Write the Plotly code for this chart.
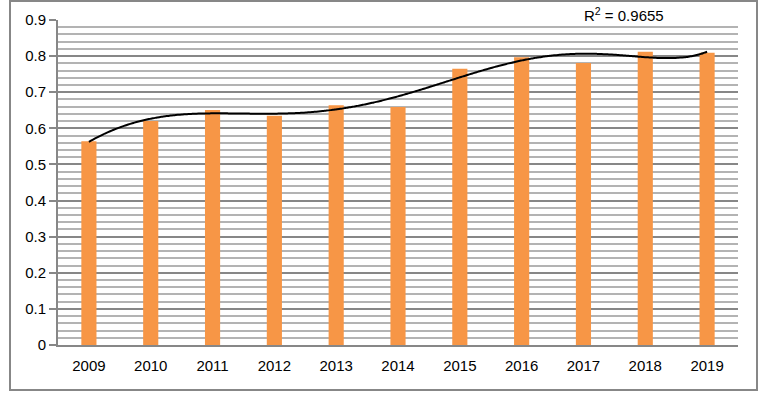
import numpy as np
import plotly.graph_objects as go

years = [2009, 2010, 2011, 2012, 2013, 2014, 2015, 2016, 2017, 2018, 2019]
values = [0.564, 0.620, 0.651, 0.635, 0.664, 0.659, 0.765, 0.797, 0.781, 0.812, 0.809]
y_ticks = [0, 0.1, 0.2, 0.3, 0.4, 0.5, 0.6, 0.7, 0.8, 0.9]
y_tick_labels = ["0", "0.1", "0.2", "0.3", "0.4", "0.5", "0.6", "0.7", "0.8", "0.9"]
r2_label = "R<sup>2</sup> = 0.9655"

# 6th-order polynomial trendline fitted to the bar values
xs = np.array(years, dtype=float) - 2014
ys = np.array(values)
DEG = 6
coef = np.polyfit(xs, ys, DEG)
xf = np.linspace(xs.min(), xs.max(), 300)
yf = np.polyval(coef, xf)

fig = go.Figure()
fig.add_trace(go.Bar(x=years, y=values, width=0.245, marker=dict(color="#F79646", line=dict(width=0))))
fig.add_trace(go.Scatter(x=xf + 2014, y=yf, mode="lines", line=dict(color="black", width=2, shape="spline")))

fig.update_layout(
    width=765, height=395,
    margin=dict(l=58, r=27, t=20, b=50),
    paper_bgcolor="white", plot_bgcolor="white",
    showlegend=False,
    font=dict(family="Liberation Sans, Arial, sans-serif", size=15, color="black"),
    xaxis=dict(range=[2008.5, 2019.5], tickvals=years, ticktext=[str(y) for y in years],
               showgrid=False, zeroline=False, showline=True, linecolor="#878787", linewidth=2,
               ticks="", ticklabelstandoff=6, automargin=False),
    yaxis=dict(range=[0, 0.9], tickvals=y_ticks, ticktext=y_tick_labels,
               showgrid=True, gridcolor="#878787", gridwidth=2,
               minor=dict(dtick=0.02, showgrid=True, gridcolor="#b3b3b3", gridwidth=2, ticks=""),
               zeroline=False, showline=True, linecolor="#878787", linewidth=2,
               ticks="outside", ticklen=7, tickcolor="#878787", tickwidth=2, automargin=False),
    shapes=[dict(type="rect", xref="paper", yref="paper",
                 x0=(10 - 58) / 680, x1=(757 - 58) / 680,
                 y0=-(390 - 345) / 325, y1=1 + (20 - 1) / 325,
                 line=dict(color="#878787", width=2), fillcolor="rgba(0,0,0,0)", layer="above")],
    annotations=[dict(text=r2_label, xref="x", yref="paper", x=2017.65, y=1.0, yanchor="bottom",
                      yshift=-6, showarrow=False, font=dict(size=15))],
)
fig.write_html("out.html", config={"displayModeBar": False},
               post_script="document.body.style.margin='0';")
